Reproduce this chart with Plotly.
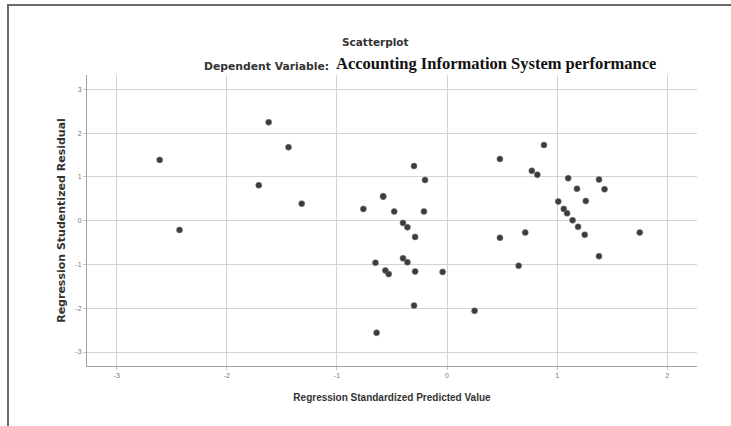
import plotly.graph_objects as go

pred = [-2.61, -2.43, -1.62, -1.44, -1.71, -1.32,
        -0.76, -0.58, -0.58, -0.48, -0.30, -0.20, -0.21, -0.40, -0.36, -0.29,
        -0.65, -0.56, -0.53, -0.40, -0.36, -0.29, -0.04, -0.30, -0.64,
        0.25, 0.48, 0.48, 0.71, 0.65, 0.88, 0.77, 0.82,
        1.10, 1.18, 1.26, 1.38, 1.43, 1.01, 1.06, 1.09, 1.14, 1.19, 1.25, 1.38, 1.75]
resid = [1.39, -0.21, 2.25, 1.68, 0.81, 0.39,
         0.27, 0.55, 0.56, 0.21, 1.25, 0.93, 0.21, -0.05, -0.15, -0.37,
         -0.96, -1.14, -1.22, -0.86, -0.95, -1.16, -1.17, -1.94, -2.56,
         -2.06, 1.41, -0.39, -0.27, -1.03, 1.73, 1.14, 1.05,
         0.97, 0.73, 0.45, 0.94, 0.72, 0.44, 0.27, 0.17, 0.01, -0.14, -0.32, -0.81, -0.27]

tick_vals = [-3, -2, -1, 0, 1, 2]
ytick_vals = [-3, -2, -1, 0, 1, 2, 3]

fig = go.Figure()
fig.add_trace(go.Scatter(
    x=pred, y=resid, mode="markers",
    marker=dict(size=6, color="#3c3c3c", line=dict(width=0.6, color="#707070")),
    showlegend=False, hoverinfo="x+y"))

W, H = 731, 426
L, R, T, B = 87, 34, 75, 60
pw, ph = W - L - R, H - T - B

def px(xp):
    return (xp - L) / pw

def py(yp):
    return (H - B - yp) / ph

fig.update_layout(
    width=W, height=H,
    margin=dict(l=L, r=R, t=T, b=B, autoexpand=False),
    paper_bgcolor="white", plot_bgcolor="white",
    font=dict(family="Arial, Liberation Sans, sans-serif", color="#222222"),
    xaxis=dict(range=[-3.27, 2.27], tickvals=tick_vals, ticktext=[str(v) for v in tick_vals],
               showgrid=True, gridcolor="#d4d4d4", gridwidth=1,
               zeroline=False, showline=True, linecolor="#a0a0a0", linewidth=1,
               ticks="outside", ticklen=3, tickcolor="#c8c8c8",
               tickfont=dict(size=7, color="#777777"),
               title=dict(text="<b>Regression Standardized Predicted Value</b>",
                          font=dict(size=10, color="#333333"), standoff=15)),
    yaxis=dict(range=[-3.32, 3.33], tickvals=ytick_vals, ticktext=[str(v) for v in ytick_vals],
               showgrid=True, gridcolor="#d4d4d4", gridwidth=1,
               zeroline=False, showline=True, linecolor="#a0a0a0", linewidth=1,
               ticks="outside", ticklen=3, tickcolor="#c8c8c8",
               tickfont=dict(size=7, color="#777777"),
               title=dict(text="<b>Regression Studentized Residual</b>",
                          font=dict(size=11, color="#333333", family="DejaVu Sans, sans-serif"),
                          standoff=7)),
)

fig.add_annotation(x=px(375), y=py(42), xref="paper", yref="paper", showarrow=False,
                   text="<b>Scatterplot</b>",
                   font=dict(size=10.5, color="#333333", family="DejaVu Sans, sans-serif"),
                   xanchor="center", yanchor="middle")
fig.add_annotation(x=px(331), y=py(66), xref="paper", yref="paper", showarrow=False,
                   text="<b>Dependent Variable:</b>",
                   font=dict(size=10.8, color="#333333", family="DejaVu Sans, sans-serif"),
                   xanchor="right", yanchor="middle")
fig.add_annotation(x=px(334), y=py(64), xref="paper", yref="paper", showarrow=False,
                   text="<b>Accounting Information System performance</b>",
                   font=dict(size=16.5, color="#111111", family="Liberation Serif, Times New Roman, serif"),
                   xanchor="left", yanchor="middle")

# frame: top and left borders of the original picture
fig.add_shape(type="line", xref="paper", yref="paper",
              x0=px(7), x1=px(731), y0=py(5), y1=py(5),
              line=dict(color="#6a6a6a", width=2), layer="below")
fig.add_shape(type="line", xref="paper", yref="paper",
              x0=px(8), x1=px(8), y0=py(5), y1=py(426),
              line=dict(color="#6a6a6a", width=2), layer="below")

fig.write_html("out.html", config={"displayModeBar": False},
               post_script="document.body.style.margin='0';document.body.style.overflow='hidden';")
